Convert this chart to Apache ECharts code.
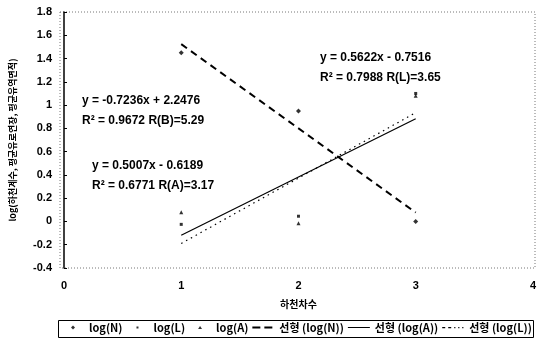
<!DOCTYPE html>
<html>
<head>
<meta charset="utf-8">
<script src="https://cdn.jsdelivr.net/npm/echarts@6/dist/echarts.min.js"></script>
<style>
  html, body { margin: 0; padding: 0; background: #fff; }
  #chart { width: 539px; height: 345px; }
</style>
</head>
<body>
<div id="chart"></div>
<script>
// 하천차수별 log 값 + 선형 추세선
const orders = [1, 2, 3]
const logN = [1.45, 0.95, 0.0]
const logL = [-0.025, 0.045, 1.10]
const logA = [0.08, -0.015, 1.08]

// 추세선 계수 (그림의 식)
const fitN = { slope: -0.7236, icpt: 2.2476 }
const fitA = { slope: 0.5007, icpt: -0.6189 }
const fitL = { slope: 0.5622, icpt: -0.7516 }

const FONT = '"Liberation Sans", "Noto Sans CJK KR", sans-serif'
const KFONT = '"Noto Sans CJK KR", "Liberation Sans", sans-serif'

// 범례 아이콘 (여백 포함 path, 22x8 박스)
const ICON_DIAMOND = 'path://M0,0 M22,8 M9,4 L11,2 L13,4 L11,6 Z'
const ICON_RECT = 'path://M0,0 M22,8 M10,3 L12,3 L12,5 L10,5 Z'
const ICON_TRI = 'path://M0,0 M22,8 M11,2.5 L13,5.5 L9,5.5 Z'
const ICON_DASH = 'path://M0,0 M22,8 M0,3 h8 v2 h-8 Z M12,3 h8 v2 h-8 Z'
const ICON_SOLID = 'path://M0,0 M22,8 M0,3.5 h22 v1 h-22 Z'
const ICON_DOT = 'path://M0,0 M22,8 M0,3.5 h3 v1.2 h-3 Z M6,3.5 h3 v1.2 h-3 Z M12,3.5 h1.2 v1.2 h-1.2 Z M16,3.5 h1.2 v1.2 h-1.2 Z M20,3.5 h1.2 v1.2 h-1.2 Z'

function pts(arr) {
  return orders.map((x, i) => [x, arr[i]])
}
function fitLine(f) {
  const x0 = orders[0]
  const x1 = orders[orders.length - 1]
  return [[x0, f.slope * x0 + f.icpt], [x1, f.slope * x1 + f.icpt]]
}

const myChart = echarts.init(document.getElementById('chart'))

const option = {
  backgroundColor: '#fff',
  animation: false,
  grid: { left: 60, right: 4, top: 12, bottom: 77 },
  xAxis: {
    type: 'value',
    min: 0,
    max: 4,
    interval: 1,
    name: '하천차수',
    nameLocation: 'middle',
    nameGap: 31,
    nameTextStyle: { fontFamily: KFONT, fontSize: 10, fontWeight: 'bold', color: '#000' },
    axisLine: { show: false },
    axisTick: { show: false },
    axisLabel: { fontFamily: FONT, fontSize: 11, fontWeight: 'bold', color: '#000', margin: 12 },
    splitLine: { show: false }
  },
  yAxis: {
    type: 'value',
    min: -0.4,
    max: 1.8,
    interval: 0.2,
    name: 'log(하천계수, 평균유로연장, 평균유역면적)',
    nameLocation: 'middle',
    nameGap: 47,
    nameTextStyle: { fontFamily: KFONT, fontSize: 9, fontWeight: 'bold', color: '#000' },
    axisLine: { show: true, onZero: false, lineStyle: { color: '#000', width: 1.5 } },
    axisTick: { show: true, inside: true, length: 3, lineStyle: { color: '#000' } },
    axisLabel: {
      fontFamily: FONT, fontSize: 11, fontWeight: 'bold', color: '#000', margin: 12,
      formatter: v => String(Math.round(v * 10) / 10)
    },
    splitLine: { show: false }
  },
  legend: {
    top: 322,
    left: 62,
    itemGap: 4,
    itemWidth: 22,
    itemHeight: 8,
    padding: 0,
    textStyle: { fontFamily: KFONT, fontSize: 11, fontWeight: 'bold', color: '#000' },
    data: [
      { name: 'log(N)', icon: ICON_DIAMOND },
      { name: 'log(L)', icon: ICON_RECT },
      { name: 'log(A)', icon: ICON_TRI },
      { name: '선형 (log(N))', icon: ICON_DASH },
      { name: '선형 (log(A))', icon: ICON_SOLID },
      { name: '선형 (log(L))', icon: ICON_DOT }
    ]
  },
  graphic: [
    // 그림 테두리 (점선)
    {
      type: 'rect', silent: true, z: 0,
      shape: { x: 60, y: 12, width: 475, height: 256 },
      style: { fill: 'none', stroke: '#777', lineWidth: 1, lineDash: [1, 2] }
    },
    // 범례 테두리
    {
      type: 'rect', silent: true, z: 0,
      shape: { x: 58.5, y: 320.5, width: 475, height: 17 },
      style: { fill: 'none', stroke: '#000', lineWidth: 1 }
    },
    {
      type: 'text', left: 320, top: 48,
      style: { text: 'y = 0.5622x - 0.7516\nR² = 0.7988 R(L)=3.65', font: 'bold 12px ' + FONT, fill: '#000', lineHeight: 20 }
    },
    {
      type: 'text', left: 82, top: 91,
      style: { text: 'y = -0.7236x + 2.2476\nR² = 0.9672 R(B)=5.29', font: 'bold 12px ' + FONT, fill: '#000', lineHeight: 20 }
    },
    {
      type: 'text', left: 92, top: 156,
      style: { text: 'y = 0.5007x - 0.6189\nR² = 0.6771 R(A)=3.17', font: 'bold 12px ' + FONT, fill: '#000', lineHeight: 20 }
    }
  ],
  series: [
    {
      name: 'log(N)', type: 'scatter', symbol: 'diamond', symbolSize: 5,
      itemStyle: { color: '#000' }, data: pts(logN)
    },
    {
      name: 'log(L)', type: 'scatter', symbol: 'rect', symbolSize: 3,
      itemStyle: { color: '#000' }, data: pts(logL)
    },
    {
      name: 'log(A)', type: 'scatter', symbol: 'triangle', symbolSize: 4,
      itemStyle: { color: '#000' }, data: pts(logA)
    },
    {
      name: '선형 (log(N))', type: 'line', showSymbol: false, symbol: 'none',
      lineStyle: { color: '#000', width: 2, type: [7, 5] },
      itemStyle: { color: '#000' },
      data: fitLine(fitN)
    },
    {
      name: '선형 (log(A))', type: 'line', showSymbol: false, symbol: 'none',
      lineStyle: { color: '#000', width: 1.2, type: 'solid' },
      itemStyle: { color: '#000' },
      data: fitLine(fitA)
    },
    {
      name: '선형 (log(L))', type: 'line', showSymbol: false, symbol: 'none',
      lineStyle: { color: '#000', width: 1.2, type: [1.5, 4] },
      itemStyle: { color: '#000' },
      data: fitLine(fitL)
    }
  ]
}

myChart.setOption(option)
</script>
</body>
</html>
